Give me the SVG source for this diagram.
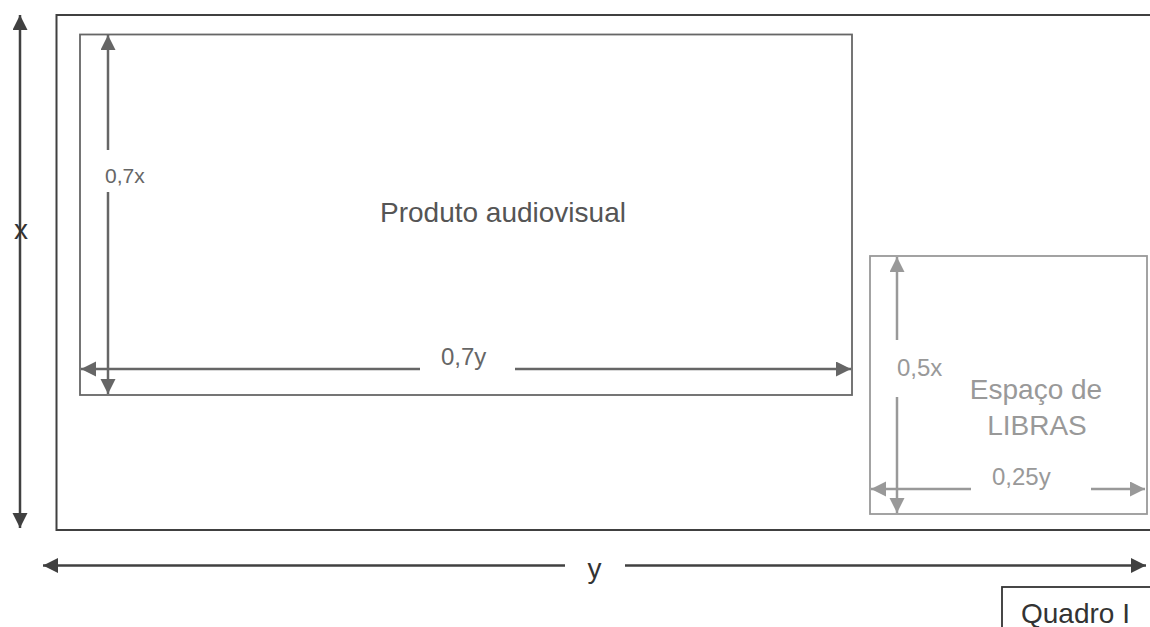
<svg xmlns="http://www.w3.org/2000/svg" width="1150" height="627" viewBox="0 0 1150 627">
<style>
text{font-family:"Liberation Sans",Arial,sans-serif}
.dk{stroke:#404040;stroke-width:2.5;fill:none}
.md{stroke:#666;stroke-width:2.5;fill:none}
.lt{stroke:#999;stroke-width:2.5;fill:none}
.big{font-size:28px}
.dim{font-size:24px}
</style>
<defs>
<marker id="aD" markerUnits="userSpaceOnUse" markerWidth="16" markerHeight="16" refX="15" refY="7.5" orient="auto-start-reverse"><path d="M0,0 L15,7.5 L0,15 z" fill="#404040"/></marker>
<marker id="aM" markerUnits="userSpaceOnUse" markerWidth="16" markerHeight="16" refX="15" refY="7.5" orient="auto-start-reverse"><path d="M0,0 L15,7.5 L0,15 z" fill="#666"/></marker>
<marker id="aL" markerUnits="userSpaceOnUse" markerWidth="16" markerHeight="16" refX="15" refY="7.5" orient="auto-start-reverse"><path d="M0,0 L15,7.5 L0,15 z" fill="#999"/></marker>
</defs>
<rect width="1150" height="627" fill="#fff"/>
<g id="quadro-frame">
<rect x="56.5" y="15" width="1110" height="515" fill="none" stroke="#404040" stroke-width="2"/>
</g>
<g id="produto">
<rect x="80" y="34.5" width="772" height="360.5" fill="none" stroke="#666" stroke-width="1.8"/>
<text x="503" y="222" text-anchor="middle" class="big" fill="#555">Produto audiovisual</text>
</g>
<g id="libras">
<rect x="870" y="256" width="277" height="258" fill="none" stroke="#999" stroke-width="1.8"/>
<text x="1036" y="399" text-anchor="middle" class="big" fill="#999">Espaço de</text>
<text x="1037" y="435" text-anchor="middle" class="big" fill="#999">LIBRAS</text>
</g>
<g id="quadro-label">
<rect x="1002" y="587" width="200" height="100" fill="none" stroke="#333" stroke-width="1.8"/>
<text x="1021" y="623" class="big" fill="#333">Quadro I</text>
</g>
<g id="connectors">
<line class="dk" x1="20" y1="15" x2="20" y2="528" marker-start="url(#aD)" marker-end="url(#aD)"/>
<line class="dk" x1="43" y1="565.5" x2="565" y2="565.5" marker-start="url(#aD)"/>
<line class="dk" x1="625" y1="565.5" x2="1146" y2="565.5" marker-end="url(#aD)"/>
<line class="md" x1="108" y1="35" x2="108" y2="150" marker-start="url(#aM)"/>
<line class="md" x1="108" y1="192" x2="108" y2="394" marker-end="url(#aM)"/>
<line class="md" x1="81" y1="369" x2="420" y2="369" marker-start="url(#aM)"/>
<line class="md" x1="515" y1="369" x2="851" y2="369" marker-end="url(#aM)"/>
<line class="lt" x1="897" y1="257" x2="897" y2="340" marker-start="url(#aL)"/>
<line class="lt" x1="897" y1="397" x2="897" y2="513" marker-end="url(#aL)"/>
<line class="lt" x1="871" y1="489" x2="971" y2="489" marker-start="url(#aL)"/>
<line class="lt" x1="1091" y1="489" x2="1145" y2="489" marker-end="url(#aL)"/>
</g>
<g id="labels">
<text x="21" y="239" text-anchor="middle" class="big" fill="#333">x</text>
<text x="594.5" y="578" text-anchor="middle" class="big" fill="#333">y</text>
<text x="105" y="183" font-size="21px" fill="#666">0,7x</text>
<text x="441" y="365" class="dim" fill="#666">0,7y</text>
<text x="897" y="376" class="dim" fill="#999">0,5x</text>
<text x="992" y="485" class="dim" fill="#999">0,25y</text>
</g>
</svg>
